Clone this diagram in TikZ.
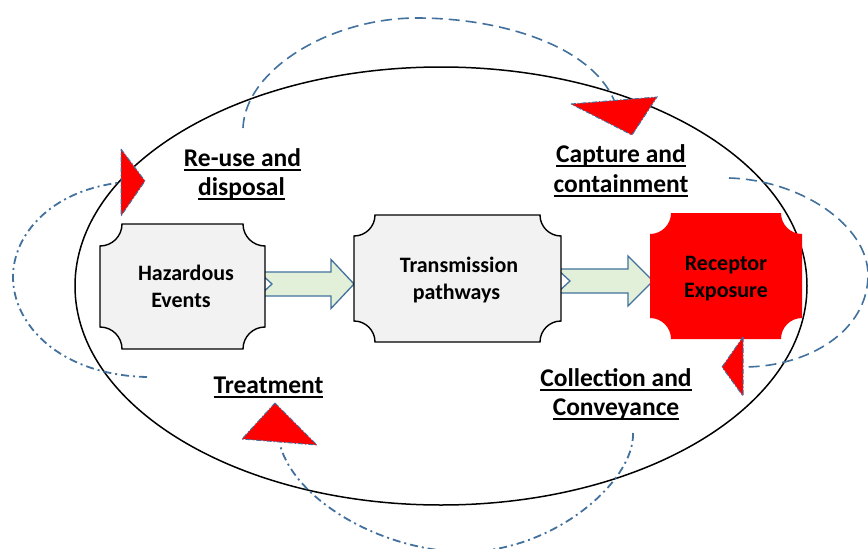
\documentclass[tikz,border=0pt]{standalone}
\usepackage{fontspec}
\setmainfont{Carlito}
\usetikzlibrary{calc}
\definecolor{lblue}{RGB}{65,113,156}
\definecolor{lgreen}{RGB}{226,240,217}
\definecolor{boxgray}{RGB}{242,242,242}
\newcommand\myul[1]{\setbox0=\hbox{#1}\rlap{\rule[-5pt]{\wd0}{1.6pt}}\box0}
\newcommand\notchbox[3]{%
 \path[#1] ($(#2.north west)+(#3,0)$) -- ($(#2.north east)+(-#3,0)$)
 .. controls +(0,0.552*#3) and +(-0.552*#3,0) .. ($(#2.north east)+(0,#3)$)
 -- ($(#2.south east)+(0,-#3)$)
 .. controls +(-0.552*#3,0) and +(0,-0.552*#3) .. ($(#2.south east)+(-#3,0)$)
 -- ($(#2.south west)+(#3,0)$)
 .. controls +(0,-0.552*#3) and +(0.552*#3,0) .. ($(#2.south west)+(0,-#3)$)
 -- ($(#2.north west)+(0,#3)$)
 .. controls +(0.552*#3,0) and +(0,0.552*#3) .. ($(#2.north west)+(#3,0)$) -- cycle;}
\begin{document}
\begin{tikzpicture}[x=1pt,y=-1pt,
  boxarea/.style={inner sep=0pt,outer sep=0pt,draw=none},
  graybox/.style={fill=boxgray,draw=black,line width=1.4pt},
  redbox/.style={fill=red,draw=none},
  barrow/.style={fill=lgreen,draw=lblue,line width=1.3pt,line join=miter},
  dcurve/.style={draw=lblue,line width=1.6pt,dash pattern=on 11pt off 6pt},
  ddcurve/.style={draw=lblue,line width=1.8pt,dash pattern=on 8pt off 4pt on 2pt off 4pt},
  tri/.style={fill=red,draw=lblue,line width=1pt,dash pattern=on 5pt off 2pt on 1.5pt off 2pt},
  lab/.style={inner sep=0pt,anchor=base,font=\fontsize{25.5}{30}\selectfont\bfseries},
  btxt/.style={inner sep=0pt,anchor=base,font=\fontsize{22}{27}\selectfont\bfseries}]
\useasboundingbox (0,0) rectangle (868,549);
\fill[white] (0,0) rectangle (868,549);
% main ellipse
\draw[black,line width=1.5pt] (441,286) ellipse [x radius=366pt, y radius=219pt];
% box areas
\node[boxarea,minimum width=165pt,minimum height=125pt] (haz) at (182.5,286.5) {};
\node[boxarea,minimum width=207pt,minimum height=127pt] (trans) at (457.5,278.5) {};
\node[boxarea,minimum width=152pt,minimum height=126pt] (rec) at (726,276) {};
% block arrows
\filldraw[barrow] (259,272) -- (331,272) -- (331,259.5) -- (354,284) -- (331,308.5) -- (331,296) -- (259,296) -- (272,284) -- cycle;
\filldraw[barrow] (557,269) -- (628,269) -- (628,256) -- (653,281) -- (628,306) -- (628,293) -- (557,293) -- (570,281) -- cycle;
% boxes
\notchbox{graybox}{haz}{22}
\notchbox{graybox}{trans}{21}
\notchbox{redbox}{rec}{21}
% curved connectors
\draw[dcurve] (243,128) .. controls (245,70) and (330,18) .. (417,18) .. controls (500,18) and (590,45) .. (614,100);
\draw[dcurve] (729,178) .. controls (800,180) and (868,225) .. (868,275) .. controls (868,330) and (810,367) .. (743,367);
\draw[ddcurve] (147,377) .. controls (60,375) and (13,325) .. (13,277) .. controls (13,235) and (50,192) .. (117,183);
\draw[ddcurve] (633,433) .. controls (635,480) and (555,552) .. (463,552) .. controls (380,550) and (295,500) .. (280,445);
% triangle heads
\filldraw[tri] (571,104) -- (657,97) -- (632,135) -- cycle;
\filldraw[tri] (121,149) -- (145,181) -- (121,216) -- cycle;
\filldraw[tri] (275,403) -- (242,439) -- (317,445) -- cycle;
\filldraw[tri] (743,337) -- (722,367) -- (743,396) -- cycle;
% box texts
\node[btxt] (hazt1) at (186,280) {Hazardous};
\node[btxt] (hazt2) at (181,307) {Events};
\node[btxt] (trt1) at (459,272) {Transmission};
\node[btxt] (trt2) at (456.5,299) {pathways};
\node[btxt] (rect1) at (726,270) {Receptor};
\node[btxt] (rect2) at (726,297) {Exposure};
% labels
\node[lab] (reuse1) at (242.5,166) {\myul{Re-use and}};
\node[lab] (reuse2) at (241.5,195) {\myul{disposal}};
\node[lab] (cap1) at (621,162) {\myul{Capture and}};
\node[lab] (cap2) at (621,192) {\myul{containment}};
\node[lab] (treat) at (268.5,393) {\myul{Treatment}};
\node[lab] (col1) at (616,386) {\myul{Collection and}};
\node[lab] (col2) at (616,415) {\myul{Conveyance}};
\end{tikzpicture}
\end{document}
